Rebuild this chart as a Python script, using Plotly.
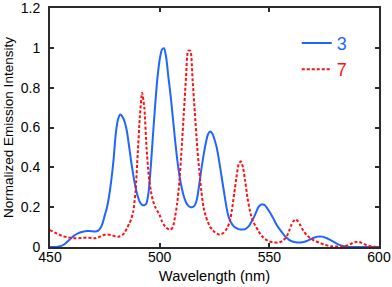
import plotly.graph_objects as go

# Wavelength grid (nm), 1 nm steps from 450 to 600
wavelength = list(range(450, 601))

# Series "3" (blue, solid) normalized emission intensity
series_3 = [
    0.0, 0.0, 0.0, 0.0, 0.002, 0.005, 0.01, 0.018, 0.028, 0.038,          # 450-459
    0.048, 0.057, 0.064, 0.07, 0.074, 0.077, 0.079, 0.08, 0.08, 0.079,    # 460-469
    0.078, 0.078, 0.082, 0.095, 0.12, 0.16, 0.2, 0.26, 0.34, 0.44,        # 470-479
    0.57, 0.64, 0.665, 0.655, 0.63, 0.585, 0.51, 0.43, 0.36, 0.3,         # 480-489
    0.255, 0.225, 0.212, 0.21, 0.22, 0.28, 0.41, 0.57, 0.72, 0.85,        # 490-499
    0.94, 0.99, 0.998, 0.95, 0.85, 0.76, 0.65, 0.54, 0.44, 0.36,          # 500-509
    0.3, 0.255, 0.225, 0.208, 0.2, 0.2, 0.21, 0.24, 0.31, 0.39,           # 510-519
    0.46, 0.52, 0.565, 0.58, 0.57, 0.54, 0.5, 0.44, 0.37, 0.3,            # 520-529
    0.23, 0.17, 0.135, 0.115, 0.102, 0.095, 0.09, 0.088, 0.088, 0.09,     # 530-539
    0.098, 0.11, 0.13, 0.15, 0.175, 0.2, 0.212, 0.214, 0.21, 0.195,       # 540-549
    0.178, 0.16, 0.14, 0.118, 0.1, 0.085, 0.07, 0.056, 0.045, 0.036,      # 550-559
    0.03, 0.026, 0.024, 0.023, 0.023, 0.024, 0.026, 0.03, 0.035, 0.04,    # 560-569
    0.045, 0.049, 0.052, 0.053, 0.052, 0.049, 0.045, 0.04, 0.034, 0.028,  # 570-579
    0.022, 0.016, 0.011, 0.007, 0.004, 0.002, 0.0, 0.0, 0.0, 0.0,         # 580-589
    0.0, 0.0, 0.0, 0.0, 0.0, 0.0, 0.0, 0.0, 0.0, 0.0,                     # 590-599
    0.0,                                                                   # 600
]

# Series "7" (red, dashed) normalized emission intensity
series_7 = [
    0.085, 0.08, 0.074, 0.068, 0.063, 0.058, 0.054, 0.051, 0.049, 0.047,  # 450-459
    0.045, 0.044, 0.044, 0.044, 0.045, 0.046, 0.047, 0.047, 0.046, 0.045, # 460-469
    0.044, 0.045, 0.048, 0.053, 0.058, 0.062, 0.063, 0.062, 0.059, 0.056, # 470-479
    0.053, 0.052, 0.054, 0.06, 0.072, 0.092, 0.115, 0.14, 0.18, 0.28,     # 480-489
    0.47, 0.66, 0.775, 0.7, 0.5, 0.36, 0.28, 0.23, 0.2, 0.18,             # 490-499
    0.16, 0.13, 0.11, 0.097, 0.089, 0.087, 0.1, 0.15, 0.22, 0.33,         # 500-509
    0.49, 0.67, 0.85, 0.985, 0.985, 0.84, 0.68, 0.52, 0.39, 0.28,         # 510-519
    0.2, 0.155, 0.125, 0.1, 0.088, 0.075, 0.067, 0.063, 0.064, 0.07,      # 520-529
    0.082, 0.1, 0.13, 0.19, 0.27, 0.35, 0.415, 0.43, 0.4, 0.33,           # 530-539
    0.25, 0.19, 0.145, 0.12, 0.1, 0.08, 0.064, 0.05, 0.04, 0.033,         # 540-549
    0.028, 0.025, 0.023, 0.022, 0.022, 0.025, 0.03, 0.04, 0.055, 0.08,    # 550-559
    0.11, 0.13, 0.139, 0.13, 0.112, 0.09, 0.075, 0.06, 0.05, 0.042,       # 560-569
    0.035, 0.03, 0.025, 0.02, 0.016, 0.012, 0.009, 0.006, 0.004, 0.003,   # 570-579
    0.002, 0.002, 0.002, 0.003, 0.004, 0.006, 0.01, 0.015, 0.02, 0.024,   # 580-589
    0.026, 0.025, 0.021, 0.016, 0.011, 0.007, 0.004, 0.002, 0.001, 0.0,   # 590-599
    0.0,                                                                   # 600
]

x_ticks = [450, 500, 550, 600]
y_ticks = [0, 0.2, 0.4, 0.6, 0.8, 1.0, 1.2]
y_ticklabels = ["0", "0.2", "0.4", "0.6", "0.8", "1", "1.2"]

BLUE = "#1f66ff"
RED = "#ff1010"
FONT = "Liberation Sans, Arial, sans-serif"
AXIS = "#2b2b2b"

fig = go.Figure()
fig.add_trace(go.Scatter(
    x=wavelength, y=series_3, mode="lines",
    name=f'<span style="color:{BLUE}">3</span>',
    line=dict(color=BLUE, width=2, shape="spline", smoothing=0.6),
))
fig.add_trace(go.Scatter(
    x=wavelength, y=series_7, mode="lines",
    name=f'<span style="color:{RED}">7</span>',
    line=dict(color=RED, width=2, dash="3px,2px", shape="spline", smoothing=0.6),
))

axis_common = dict(
    showline=True, linecolor=AXIS, linewidth=2, mirror="ticks",
    ticks="inside", ticklen=4, tickwidth=1.5, tickcolor=AXIS,
    showgrid=False, zeroline=False,
    ticklabeloverflow="allow",
    tickfont=dict(family=FONT, size=14, color="#000"),
)

fig.update_xaxes(
    range=[450, 600], tickvals=x_ticks,
    title=dict(text="Wavelength (nm)", font=dict(family=FONT, size=14.7, color="#000"), standoff=7),
    ticklabelstandoff=-4,
    **axis_common,
)
fig.update_yaxes(
    range=[0, 1.2], tickvals=y_ticks, ticktext=y_ticklabels,
    title=dict(text="Normalized Emission Intensity", font=dict(family=FONT, size=13.5, color="#000"), standoff=4),
    ticklabelstandoff=5,
    **axis_common,
)

fig.update_layout(
    width=392, height=287,
    margin=dict(l=50, r=13, t=8, b=40, autoexpand=False),
    paper_bgcolor="white", plot_bgcolor="white",
    showlegend=True,
    legend=dict(
        x=0.75, y=0.93, xanchor="left", yanchor="top",
        bgcolor="rgba(0,0,0,0)", borderwidth=0,
        font=dict(family=FONT, size=18),
        tracegroupgap=0, itemwidth=30,
    ),
)

fig.write_html(
    "out.html",
    config={"displayModeBar": False},
    post_script="document.body.style.margin='0';document.body.style.overflow='hidden';",
)
